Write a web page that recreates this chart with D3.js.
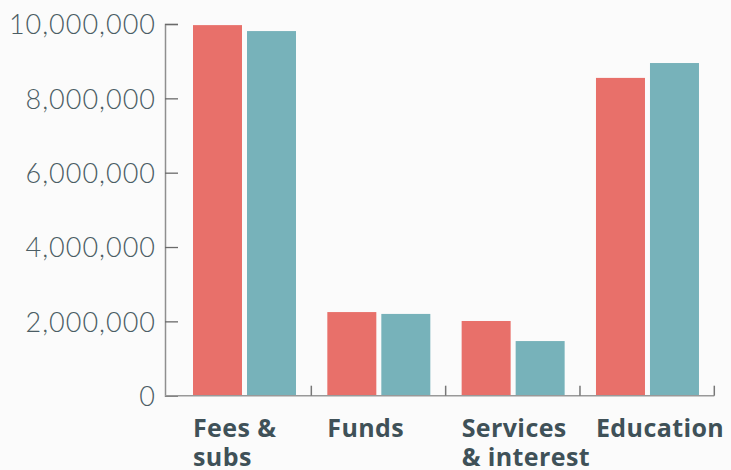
<!DOCTYPE html>
<html>
<head>
<meta charset="utf-8">
<script src="https://cdn.jsdelivr.net/npm/d3@7"></script>
<style>
  html, body { margin: 0; padding: 0; background: #fbfbfb; }
  svg { display: block; }
</style>
</head>
<body>
<svg id="chart" width="731" height="470"></svg>
<script>
const categories = ["Fees & subs", "Funds", "Services & interest", "Education"];
const categoryLines = [["Fees &", "subs"], ["Funds"], ["Services", "& interest"], ["Education"]];
const seriesNames = ["A", "B"];
const seriesA = [9970000, 2250000, 2010000, 8550000];
const seriesB = [9810000, 2200000, 1470000, 8950000];
const yTicks = [0, 2000000, 4000000, 6000000, 8000000, 10000000];
const colors = ["#e8706a", "#77b2ba"];

const svg = d3.select("#chart");
const W = 731, H = 470;
svg.append("rect").attr("width", W).attr("height", H).attr("fill", "#fbfbfb");

const axisX = 165, yBottom = 395.7, yTop = 24;
const y = d3.scaleLinear().domain([0, 10000000]).range([yBottom, yTop]);
const x0 = d3.scaleBand().domain(categories).range([177, 714.3]).padding(0);
const x1 = d3.scaleBand().domain(seriesNames).range([16, 119]).paddingInner(0.0926);

const data = categories.map((c, i) => ({ c, vals: [seriesA[i], seriesB[i]] }));

// bars
const g = svg.append("g");
data.forEach(d => {
  seriesNames.forEach((s, j) => {
    g.append("rect")
      .attr("x", x0(d.c) + x1(s))
      .attr("y", y(d.vals[j]))
      .attr("width", x1.bandwidth())
      .attr("height", yBottom - y(d.vals[j]))
      .attr("fill", colors[j]);
  });
});

// y axis
const yAxis = d3.axisLeft(y).tickValues(yTicks).tickFormat(d3.format(",")).tickSizeInner(-13).tickSizeOuter(-13).tickPadding(9);
const ya = svg.append("g").attr("transform", `translate(${axisX},0)`).call(yAxis);
ya.select(".domain").attr("stroke", "#8f8f8f").attr("stroke-width", 1.5);
ya.selectAll(".tick line").attr("stroke", "#6a6a6a").attr("stroke-width", 1.3);
ya.selectAll(".tick text")
  .attr("fill", "#4b5d64")
  .attr("font-family", "Lato, 'Open Sans', sans-serif")
  .attr("font-weight", 300)
  .attr("font-size", 27)
  .attr("letter-spacing", 1)
  .attr("dy", "0.36em");

// x axis line
svg.append("line")
  .attr("x1", axisX).attr("x2", x0.range()[1])
  .attr("y1", yBottom).attr("y2", yBottom)
  .attr("stroke", "#999").attr("stroke-width", 1.5);
// x ticks at band boundaries
svg.selectAll(".xtick").data(categories).enter().append("line")
  .attr("x1", d => x0(d) + x0.step()).attr("x2", d => x0(d) + x0.step())
  .attr("y1", yBottom).attr("y2", yBottom - 10)
  .attr("stroke", "#777").attr("stroke-width", 1.5);

// category labels (one text per line)
const lines = [];
categories.forEach((c, i) => categoryLines[i].forEach((ln, k) => lines.push({ c, ln, k })));
svg.selectAll(".clabel").data(lines).enter().append("text")
  .attr("x", d => x0(d.c) + x1("A"))
  .attr("y", d => 437 + d.k * 28.5)
  .attr("fill", "#3f5158")
  .attr("font-family", "'Open Sans', sans-serif")
  .attr("font-weight", 700)
  .attr("font-size", 25)
  .attr("letter-spacing", 0.4)
  .text(d => d.ln);
</script>
</body>
</html>
